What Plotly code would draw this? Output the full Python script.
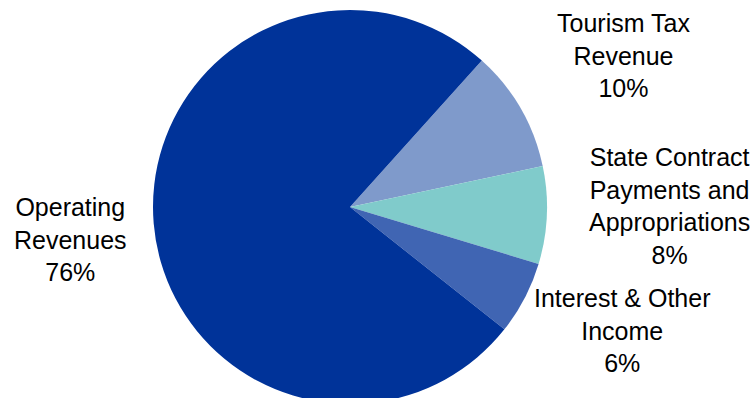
import plotly.graph_objects as go

# Revenue sources, in clockwise order starting from the Tourism slice
labels = ["Tourism Tax<br>Revenue",
          "State Contract<br>Payments and<br>Appropriations",
          "Interest & Other<br>Income",
          "Operating<br>Revenues"]
shares = [10, 8, 6, 76]
colors = ["#7F9ACB", "#80CBCB", "#4065B3", "#003399"]

W, H = 754, 412

fig = go.Figure(go.Pie(
    labels=labels,
    values=shares,
    sort=False,
    direction="clockwise",
    rotation=42,
    marker=dict(colors=colors, line=dict(width=0)),
    textinfo="none",
    hoverinfo="skip",
    domain=dict(x=[153 / W, 547 / W], y=[(H - 404) / H, (H - 10) / H]),
    showlegend=False,
))

# Label anchor points (pixel centres of each text block)
label_pos = [(623, 55), (669, 206), (622, 330), (70, 240)]
for name, val, (px, py) in zip(labels, shares, label_pos):
    fig.add_annotation(
        text=f"{name}<br>{val}%",
        x=px / W, y=(H - py) / H,
        xref="paper", yref="paper",
        xanchor="center", yanchor="middle",
        showarrow=False, align="center",
        font=dict(family="Liberation Sans, Arial", size=25, color="#000000"),
    )

fig.update_layout(
    width=W, height=H,
    margin=dict(l=0, r=0, t=0, b=0),
    paper_bgcolor="white",
    plot_bgcolor="white",
)

fig.write_html("out.html")
